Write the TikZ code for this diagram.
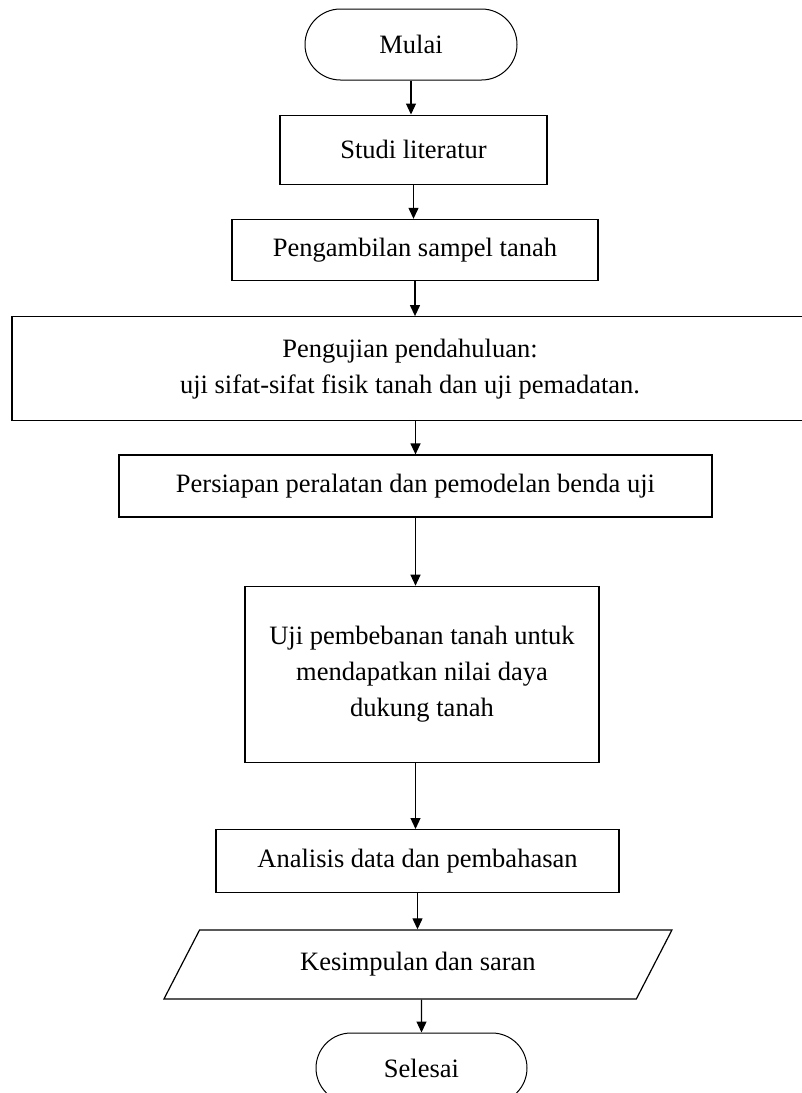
\documentclass[tikz,border=0pt]{standalone}
\usepackage{fontspec}
\setmainfont{Liberation Serif}
\usepackage{tikz}
\usetikzlibrary{arrows.meta,shapes.geometric,shapes.misc,positioning}
\tikzstyle{arrow} = [line width=1.2pt,->,>={Triangle[length=11pt,width=10pt]}]
\tikzstyle{startstop} = [rounded rectangle, draw, line width=1pt, inner sep=0pt, minimum width=212pt, minimum height=71pt]
\tikzstyle{process} = [rectangle, draw, line width=1.3pt, inner sep=0pt, align=center]
\tikzstyle{io} = [trapezium, trapezium left angle=34, trapezium right angle=146, trapezium stretches body, draw, line width=1.2pt, inner sep=0pt]

\begin{document}
\begin{tikzpicture}[font=\fontsize{26.5pt}{36pt}\selectfont]
\useasboundingbox (0,0) rectangle (801pt,-1093pt);
% Steps
\node (mulai) [startstop] at (411pt,-44.5pt) {Mulai};
\node (studi) [process, below=34pt of mulai, xshift=2.5pt, minimum width=267pt, minimum height=69pt] {Studi literatur};
\node (sampel) [process, below=34pt of studi, xshift=1.5pt, minimum width=366pt, minimum height=61pt] {Pengambilan sampel tanah};
\node (pendahuluan) [process, below=35pt of sampel, xshift=-5pt, minimum width=796pt, minimum height=104pt] {Pengujian pendahuluan:\\uji sifat-sifat fisik tanah dan uji pemadatan.};
\node (persiapan) [process, below=33pt of pendahuluan, xshift=5.5pt, minimum width=593pt, minimum height=62pt] {Persiapan peralatan dan pemodelan benda uji};
\node (pembebanan) [process, below=68pt of persiapan, xshift=6.5pt, minimum width=354pt, minimum height=176pt] {Uji pembebanan tanah untuk\\mendapatkan nilai daya\\dukung tanah};
\node (analisis) [process, below=66pt of pembebanan, xshift=-4.5pt, minimum width=403pt, minimum height=63pt] {Analisis data dan pembahasan};
\node (kesimpulan) [io, below=36pt of analisis, xshift=0.5pt, minimum width=508pt, minimum height=69pt] {Kesimpulan dan saran};
\node (selesai) [startstop, below=33pt of kesimpulan, xshift=3.5pt, minimum width=211pt, minimum height=70pt] {Selesai};

% Arrows
\draw[arrow] (mulai) -- (mulai |- studi.north);
\draw[arrow] (studi) -- (studi |- sampel.north);
\draw[arrow] (sampel) -- (sampel |- pendahuluan.north);
\draw[arrow] (persiapan |- pendahuluan.south) -- (persiapan);
\draw[arrow] (persiapan.south) -- (persiapan.south |- pembebanan.north);
\draw[arrow] (persiapan.south |- pembebanan.south) -- (persiapan.south |- analisis.north);
\draw[arrow] (analisis.south) -- (analisis.south |- kesimpulan.north);
\draw[arrow] (selesai |- kesimpulan.south) -- (selesai);
\end{tikzpicture}
\end{document}
